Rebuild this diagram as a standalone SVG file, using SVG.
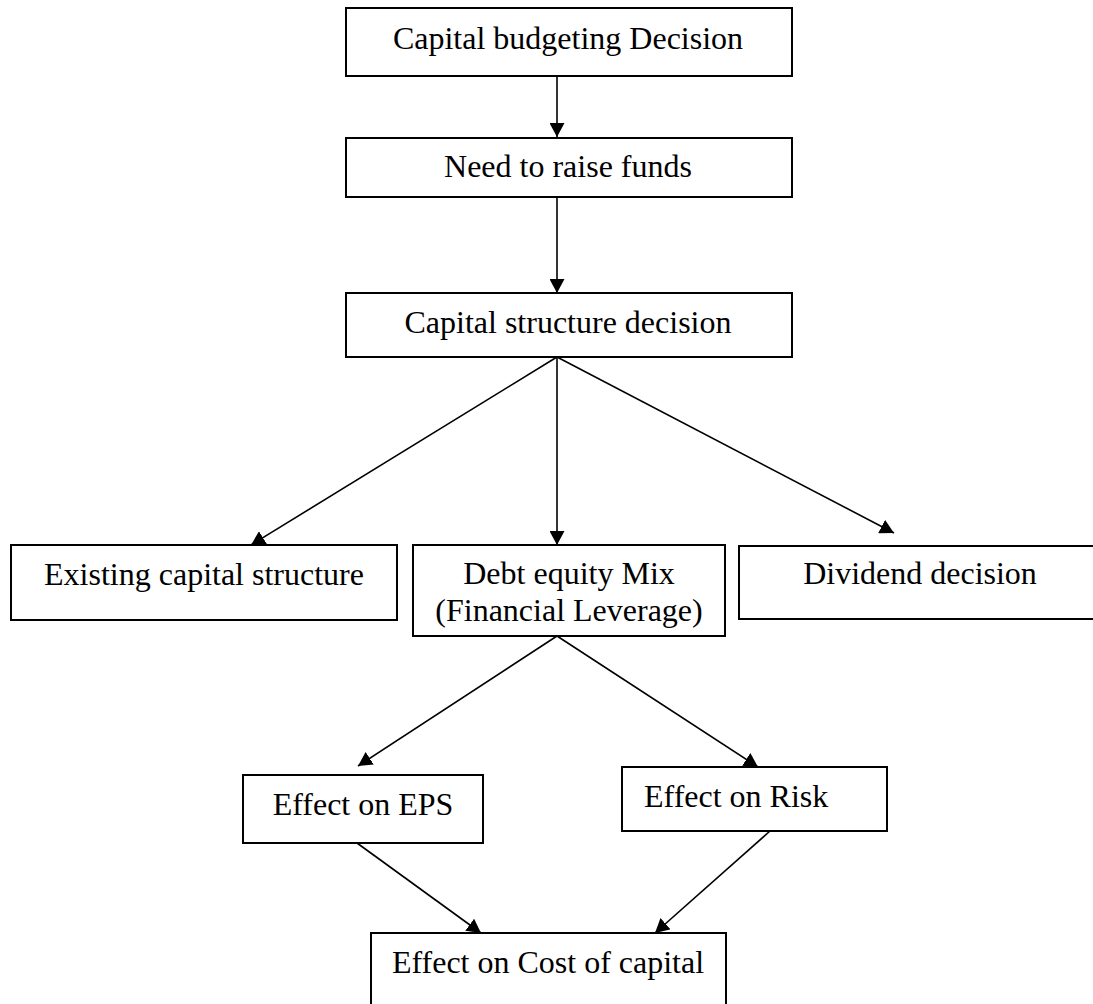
<svg xmlns="http://www.w3.org/2000/svg" width="1093" height="1004" viewBox="0 0 1093 1004">
<style>
.box{fill:#fff;stroke:#000;stroke-width:2}
.t{font-family:"Liberation Serif","Times New Roman",serif;font-size:32px;fill:#000}
.c{text-anchor:middle}
.e{stroke:#000;stroke-width:1.6;fill:none;marker-end:url(#ah)}
</style>
<defs>
<marker id="ah" markerUnits="userSpaceOnUse" markerWidth="15" markerHeight="15" refX="14" refY="7.5" orient="auto" viewBox="0 0 15 15">
<path d="M0,0 L14,7.5 L0,15 z" fill="#000"/>
</marker>
</defs>
<rect width="1093" height="1004" fill="#fff"/>
<g id="edges">
<line class="e" x1="557" y1="76" x2="557" y2="137"/>
<line class="e" x1="557" y1="197" x2="557" y2="293"/>
<line class="e" x1="557" y1="357" x2="251" y2="545"/>
<line class="e" x1="557" y1="357" x2="557" y2="545"/>
<line class="e" x1="557" y1="357" x2="894" y2="533"/>
<line class="e" x1="557" y1="636" x2="358" y2="766"/>
<line class="e" x1="557" y1="636" x2="758" y2="767"/>
<line class="e" x1="357" y1="843" x2="481" y2="933"/>
<line class="e" x1="770" y1="831" x2="655" y2="933"/>
</g>
<g id="n1"><rect class="box" x="346" y="8" width="446" height="68"/><text class="t c" x="568" y="49">Capital budgeting Decision</text></g>
<g id="n2"><rect class="box" x="346" y="138" width="446" height="59"/><text class="t c" x="568" y="177">Need to raise funds</text></g>
<g id="n3"><rect class="box" x="346" y="293" width="446" height="64"/><text class="t c" x="568" y="333">Capital structure decision</text></g>
<g id="n4"><rect class="box" x="11" y="545" width="386" height="75"/><text class="t c" x="204" y="585">Existing capital structure</text></g>
<g id="n5"><rect class="box" x="413" y="545" width="312" height="91"/><text class="t c" x="569" y="584">Debt equity Mix</text><text class="t c" x="569" y="621">(Financial Leverage)</text></g>
<g id="n6"><rect class="box" x="739" y="546" width="362" height="73"/><text class="t c" x="920" y="584">Dividend decision</text></g>
<g id="n7"><rect class="box" x="243" y="775" width="240" height="68"/><text class="t c" x="363" y="815">Effect on EPS</text></g>
<g id="n8"><rect class="box" x="622" y="767" width="265" height="64"/><text class="t" x="644" y="807">Effect on Risk</text></g>
<g id="n9"><rect class="box" x="371" y="933" width="355" height="80"/><text class="t c" x="548" y="973">Effect on Cost of capital</text></g>
</svg>
